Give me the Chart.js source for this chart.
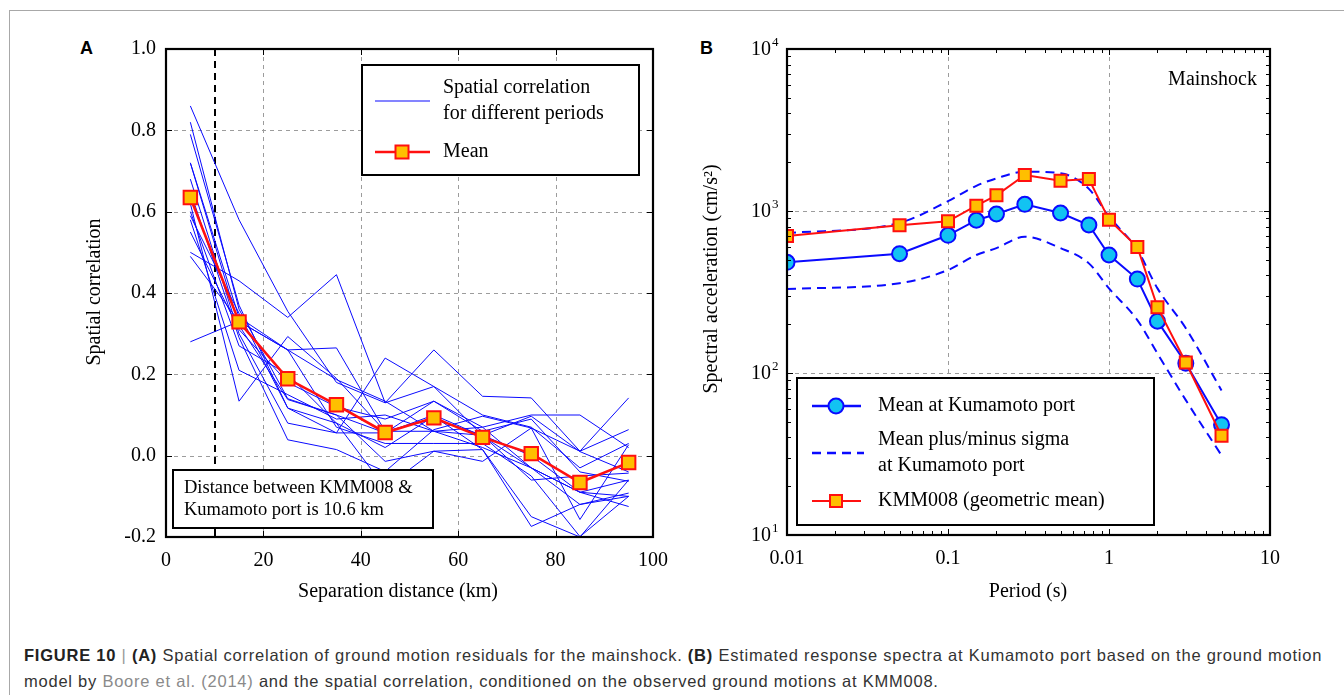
<!DOCTYPE html>
<html>
<head>
<meta charset="utf-8">
<script src="https://cdn.jsdelivr.net/npm/chart.js@4.4.1/dist/chart.umd.min.js"></script>
<style>
  html, body { margin: 0; padding: 0; background: #fff; width: 1344px; height: 695px; overflow: hidden; }
  #frame { position: absolute; left: 9px; top: 10px; width: 1340px; height: 690px;
           border-top: 1px solid #a8a8a8; border-left: 1px solid #a8a8a8; }
  .letter { position: absolute; font: bold 18px "Liberation Sans", Arial, sans-serif; color: #000; }
  #cvA { position: absolute; left: 0; top: 0; }
  #cvB { position: absolute; left: 680px; top: 0; }
  #caption { position: absolute; left: 24px; top: 642px; font: 16.5px "Liberation Sans", Arial, sans-serif;
             color: #333; line-height: 26px; white-space: nowrap; }
  #caption b { color: #222; }
  #caption .bar { color: #999; }
  #caption .ref { color: #8a8a8a; }
</style>
</head>
<body>
<div id="frame"></div>
<div class="letter" style="left:80px;top:38px;">A</div>
<div class="letter" style="left:700px;top:38px;">B</div>
<canvas id="cvA" width="680" height="620"></canvas>
<canvas id="cvB" width="664" height="620"></canvas>
<div id="caption"><span id="capLine1"><b>FIGURE 10</b> <span class="bar">|</span> <b>(A)</b> Spatial correlation of ground motion residuals for the mainshock. <b>(B)</b> Estimated response spectra at Kumamoto port based on the ground motion</span><br>model by <span class="ref">Boore et al. (2014)</span> and the spatial correlation, conditioned on the observed ground motions at KMM008.</div>

<script>
// ---- Panel A: spatial correlation vs separation distance ----
const separationKm = [5, 15, 25, 35, 45, 55, 65, 75, 85, 95];
const meanCorrelation = [0.635, 0.329, 0.189, 0.125, 0.057, 0.093, 0.045, 0.005, -0.066, -0.017];
// one curve per spectral period
const periodCurves = [
  [0.86, 0.58, 0.355, 0.18, 0.13, 0.17, 0.10, 0.07, -0.03, 0.03],
  [0.50, 0.43, 0.34, 0.445, 0.13, 0.26, 0.146, 0.142, 0.011, 0.142],
  [0.28, 0.33, 0.26, 0.265, 0.06, 0.09, 0.05, 0.00, -0.09, -0.06],
  [0.62, 0.134, 0.293, 0.19, 0.06, 0.06, 0.02, -0.03, -0.09, -0.10],
  [0.82, 0.36, 0.14, 0.10, 0.056, 0.134, 0.07, 0.10, 0.10, 0.02],
  [0.79, 0.37, 0.117, 0.056, 0.24, 0.17, 0.05, 0.097, 0.01, -0.04],
  [0.72, 0.34, 0.26, 0.187, 0.134, 0.06, 0.07, -0.03, -0.12, -0.10],
  [0.72, 0.32, 0.138, 0.10, -0.014, 0.011, 0.015, -0.15, -0.20, -0.06],
  [0.68, 0.30, 0.08, 0.056, 0.056, 0.10, 0.048, -0.03, -0.09, -0.125],
  [0.65, 0.29, 0.039, 0.015, -0.039, 0.064, 0.097, 0.068, -0.157, 0.027],
  [0.60, 0.27, 0.20, 0.08, 0.02, 0.097, 0.015, -0.174, -0.12, -0.092],
  [0.59, 0.35, 0.117, 0.08, -0.079, 0.011, -0.014, 0.068, 0.011, 0.064],
  [0.58, 0.21, 0.15, 0.09, 0.10, 0.06, 0.05, -0.06, -0.05, -0.043],
  [0.55, 0.31, 0.18, 0.12, 0.09, 0.134, 0.06, 0.09, -0.04, -0.063],
  [0.49, 0.33, 0.26, 0.07, 0.03, 0.03, 0.03, -0.05, -0.199, -0.10]
];
const distanceTicks = [0, 20, 40, 60, 80, 100];
const correlationTicks = [-0.2, 0, 0.2, 0.4, 0.6, 0.8, 1.0];
const stationDistanceKm = 10;

// ---- Panel B: response spectra ----
const periodsS = [0.01, 0.05, 0.1, 0.15, 0.2, 0.3, 0.5, 0.75, 1, 1.5, 2, 3, 5];
const meanKumamoto = [482, 545, 708, 877, 958, 1100, 972, 820, 535, 380, 209, 115, 48];
const plusSigmaKumamoto = [730, 845, 1150, 1430, 1590, 1750, 1710, 1370, 925, 575, 333, 189, 78];
const minusSigmaKumamoto = [330, 358, 432, 535, 590, 694, 590, 475, 333, 212, 132, 68, 31];
const kmm008GeoMean = [701, 816, 864, 1079, 1250, 1667, 1538, 1577, 883, 600, 255, 116, 41];
const periodTicks = [0.01, 0.1, 1, 10];
const accelTicks = [10, 100, 1000, 10000];

const SERIF = '"Liberation Serif", "Times New Roman", serif';
const BLUE = '#0a0aff';
const RED = '#ff1010';
const ORANGE = '#ffbf00';
const CYAN = '#12c3f2';

// stretch the caption's first line to the full text width
(function fitCaption() {
  const line = document.getElementById('capLine1');
  const target = 1298;
  const w = line.getBoundingClientRect().width;
  const n = line.textContent.length;
  if (w < target && n > 1) {
    document.getElementById('caption').style.letterSpacing = ((target - w) / n).toFixed(3) + 'px';
  }
})();

function seg(ctx, x1, y1, x2, y2) {
  ctx.beginPath(); ctx.moveTo(x1, y1); ctx.lineTo(x2, y2); ctx.stroke();
}
function square(ctx, x, y, half) {
  ctx.save();
  ctx.fillStyle = ORANGE; ctx.strokeStyle = RED; ctx.lineWidth = 2;
  ctx.fillRect(x - half, y - half, half * 2, half * 2);
  ctx.strokeRect(x - half, y - half, half * 2, half * 2);
  ctx.restore();
}
function circle(ctx, x, y, r) {
  ctx.save();
  ctx.fillStyle = CYAN; ctx.strokeStyle = BLUE; ctx.lineWidth = 2;
  ctx.beginPath(); ctx.arc(x, y, r, 0, Math.PI * 2); ctx.fill(); ctx.stroke();
  ctx.restore();
}
function minorLog(decades) {
  const out = [];
  decades.forEach(d => { for (let k = 2; k <= 9; k++) out.push(k * d); });
  return out;
}

// Draws the dashed grid, inward ticks, the axes box and any extra annotations.
function makeFrame(cfg) {
  return {
    id: cfg.id,
    beforeDatasetsDraw(chart) {
      const { ctx, chartArea: a, scales: { x, y } } = chart;
      ctx.save();
      ctx.strokeStyle = '#9c9c9c'; ctx.lineWidth = 1; ctx.setLineDash([4, 4]);
      cfg.gridX.forEach(v => { const p = Math.round(x.getPixelForValue(v)) + 0.5; seg(ctx, p, a.top, p, a.bottom); });
      cfg.gridY.forEach(v => { const p = Math.round(y.getPixelForValue(v)) + 0.5; seg(ctx, a.left, p, a.right, p); });
      ctx.restore();
      if (cfg.under) cfg.under(chart);
    },
    afterDatasetsDraw(chart) {
      const { ctx, chartArea: a, scales: { x, y } } = chart;
      ctx.save();
      ctx.strokeStyle = '#000'; ctx.lineWidth = 1; ctx.setLineDash([]);
      const tickSet = (vals, len, axis) => vals.forEach(v => {
        if (axis === 'x') {
          const p = Math.round(x.getPixelForValue(v)) + 0.5;
          seg(ctx, p, a.bottom, p, a.bottom - len); seg(ctx, p, a.top, p, a.top + len);
        } else {
          const p = Math.round(y.getPixelForValue(v)) + 0.5;
          seg(ctx, a.left, p, a.left + len, p); seg(ctx, a.right, p, a.right - len, p);
        }
      });
      tickSet(cfg.majorX, 6, 'x'); tickSet(cfg.majorY, 6, 'y');
      tickSet(cfg.minorX || [], 4, 'x'); tickSet(cfg.minorY || [], 4, 'y');
      ctx.lineWidth = 2.2;
      ctx.strokeRect(a.left, a.top, a.right - a.left, a.bottom - a.top);
      ctx.restore();
      if (cfg.over) cfg.over(chart);
    }
  };
}

function text(ctx, s, x, y, size, align, rot) {
  ctx.save();
  ctx.font = size + 'px ' + SERIF;
  ctx.fillStyle = '#000';
  ctx.textAlign = align || 'left';
  ctx.textBaseline = 'middle';
  ctx.translate(x, y);
  if (rot) ctx.rotate(rot);
  ctx.fillText(s, 0, 0);
  ctx.restore();
}

const baseOpts = {
  responsive: false,
  animation: false,
  events: [],
  plugins: { legend: { display: false }, tooltip: { enabled: false } }
};
const noGrid = { display: false, drawTicks: false };

// ---------- Chart A ----------
const datasetsA = [{
  label: 'Mean',
  data: separationKm.map((d, i) => ({ x: d, y: meanCorrelation[i] })),
  borderColor: RED, borderWidth: 2.6,
  pointStyle: 'rect', pointRadius: 9.5, pointBackgroundColor: ORANGE,
  pointBorderColor: RED, pointBorderWidth: 2, order: 0
}].concat(periodCurves.map((c, k) => ({
  label: 'Spatial correlation for different periods ' + (k + 1),
  data: separationKm.map((d, i) => ({ x: d, y: c[i] })),
  borderColor: BLUE, borderWidth: 1, pointRadius: 0, order: 1
})));

new Chart(document.getElementById('cvA'), {
  type: 'line',
  data: { datasets: datasetsA },
  options: Object.assign({}, baseOpts, {
    layout: { padding: { top: 49, right: 25, left: 0, bottom: 0 } },
    scales: {
      x: {
        type: 'linear', min: 0, max: 100,
        afterBuildTicks: s => { s.ticks = distanceTicks.map(v => ({ value: v })); },
        afterFit: s => { s.height = 83; },
        ticks: { color: '#000', padding: 12, font: { family: SERIF, size: 20 }, callback: v => String(v), maxRotation: 0 },
        grid: noGrid, border: { display: false }
      },
      y: {
        type: 'linear', min: -0.2, max: 1.0,
        afterBuildTicks: s => { s.ticks = correlationTicks.map(v => ({ value: v })); },
        afterFit: s => { s.width = 166; },
        ticks: { color: '#000', padding: 10, font: { family: SERIF, size: 20 }, callback: v => v.toFixed(1) },
        grid: noGrid, border: { display: false }
      }
    }
  }),
  plugins: [makeFrame({
    id: 'frameA',
    gridX: [20, 40, 60, 80], gridY: [0, 0.2, 0.4, 0.6, 0.8],
    majorX: distanceTicks, majorY: correlationTicks,
    under(chart) {
      const { ctx, chartArea: a, scales: { x } } = chart;
      ctx.save();
      ctx.strokeStyle = '#000'; ctx.lineWidth = 2; ctx.setLineDash([7, 5]);
      const p = Math.round(x.getPixelForValue(stationDistanceKm));
      seg(ctx, p, a.top, p, a.bottom);
      ctx.restore();
    },
    over(chart) {
      const { ctx } = chart;
      ctx.save();
      // distance annotation
      ctx.fillStyle = '#fff'; ctx.strokeStyle = '#000'; ctx.lineWidth = 2;
      ctx.fillRect(173, 470, 260, 58); ctx.strokeRect(173, 470, 260, 58);
      text(ctx, 'Distance between KMM008 &', 184, 488, 18.5);
      text(ctx, 'Kumamoto port is 10.6 km', 184, 510, 18.5);
      // legend
      ctx.fillRect(362, 65, 277, 110); ctx.strokeRect(362, 65, 277, 110);
      ctx.strokeStyle = BLUE; ctx.lineWidth = 1.2; seg(ctx, 375, 101, 430, 101);
      ctx.strokeStyle = RED; ctx.lineWidth = 2.6; seg(ctx, 375, 152, 430, 152);
      square(ctx, 402, 152, 6.5);
      ctx.restore();
      text(ctx, 'Spatial correlation', 443, 88, 20);
      text(ctx, 'for different periods', 443, 114, 20);
      text(ctx, 'Mean', 443, 152, 20);
      text(ctx, 'Separation distance (km)', 398, 592, 20, 'center');
      text(ctx, 'Spatial correlation', 95, 292, 20, 'center', -Math.PI / 2);
    }
  })]
});

// ---------- Chart B ----------
const xy = (vals) => periodsS.map((p, i) => ({ x: p, y: vals[i] }));
new Chart(document.getElementById('cvB'), {
  type: 'line',
  data: {
    datasets: [
      { label: 'KMM008 (geometric mean)', data: xy(kmm008GeoMean), borderColor: RED, borderWidth: 2,
        pointStyle: 'rect', pointRadius: 8.5, pointBackgroundColor: ORANGE, pointBorderColor: RED, pointBorderWidth: 2 },
      { label: 'Mean at Kumamoto port', data: xy(meanKumamoto), borderColor: BLUE, borderWidth: 2,
        pointStyle: 'circle', pointRadius: 7.5, pointBackgroundColor: CYAN, pointBorderColor: BLUE, pointBorderWidth: 2 },
      { label: 'Mean plus sigma at Kumamoto port', data: xy(plusSigmaKumamoto), borderColor: BLUE, borderWidth: 2,
        borderDash: [9, 6], pointRadius: 0, cubicInterpolationMode: 'monotone' },
      { label: 'Mean minus sigma at Kumamoto port', data: xy(minusSigmaKumamoto), borderColor: BLUE, borderWidth: 2,
        borderDash: [9, 6], pointRadius: 0, cubicInterpolationMode: 'monotone' }
    ]
  },
  options: Object.assign({}, baseOpts, {
    layout: { padding: { top: 49, right: 74, left: 0, bottom: 0 } },
    scales: {
      x: {
        type: 'logarithmic', min: 0.01, max: 10,
        afterBuildTicks: s => { s.ticks = periodTicks.map(v => ({ value: v })); },
        afterFit: s => { s.height = 85; },
        ticks: { color: '#000', padding: 12, font: { family: SERIF, size: 20 }, callback: v => String(v), maxRotation: 0 },
        grid: noGrid, border: { display: false }
      },
      y: {
        type: 'logarithmic', min: 10, max: 10000,
        afterBuildTicks: s => { s.ticks = accelTicks.map(v => ({ value: v })); },
        afterFit: s => { s.width = 107; },
        ticks: { display: false },
        grid: noGrid, border: { display: false }
      }
    }
  }),
  plugins: [makeFrame({
    id: 'frameB',
    gridX: [0.1, 1], gridY: [100, 1000],
    majorX: periodTicks, majorY: accelTicks,
    minorX: minorLog([0.01, 0.1, 1]), minorY: minorLog([10, 100, 1000]),
    over(chart) {
      const { ctx, scales: { y } } = chart;
      // power-of-ten labels on the acceleration axis
      accelTicks.forEach(v => {
        const p = y.getPixelForValue(v);
        text(ctx, '10', 91, p + 1, 20, 'right');
        text(ctx, String(Math.round(Math.log10(v))), 92, p - 6, 13);
      });
      ctx.save();
      ctx.fillStyle = '#fff'; ctx.strokeStyle = '#000'; ctx.lineWidth = 2;
      ctx.fillRect(117, 378, 357, 147); ctx.strokeRect(117, 378, 357, 147);
      ctx.strokeStyle = BLUE; ctx.lineWidth = 2.5; seg(ctx, 132, 406, 181, 406);
      circle(ctx, 156, 406, 7.5);
      ctx.setLineDash([9, 6]); ctx.lineWidth = 2.5; seg(ctx, 132, 453, 184, 453); ctx.setLineDash([]);
      ctx.strokeStyle = RED; ctx.lineWidth = 2; seg(ctx, 132, 501, 181, 501);
      square(ctx, 156, 501, 6);
      ctx.restore();
      text(ctx, 'Mean at Kumamoto port', 198, 406, 20);
      text(ctx, 'Mean plus/minus sigma', 198, 440, 20);
      text(ctx, 'at Kumamoto port', 198, 466, 20);
      text(ctx, 'KMM008 (geometric mean)', 198, 501, 20);
      text(ctx, 'Mainshock', 577, 80, 20, 'right');
      text(ctx, 'Period (s)', 348, 592, 20, 'center');
      text(ctx, 'Spectral acceleration (cm/s\u00B2)', 32, 279, 20, 'center', -Math.PI / 2);
    }
  })]
});
</script>
</body>
</html>
